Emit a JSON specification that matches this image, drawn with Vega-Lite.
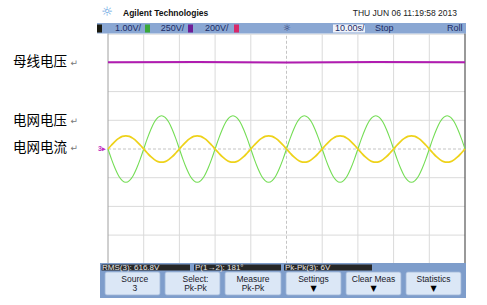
{
"$schema": "https://vega.github.io/schema/vega-lite/v6.json",
"width": 487, "height": 305, "padding": 0,
"autosize": {"type": "fit", "contains": "padding"},
"background": "white",
"config": {"view": {"stroke": null}, "text": {"font": "Liberation Sans"}},
"datasets": {
"wave": [
{"x":0.0,"i":0,"u":0},{"x":0.1,"i":0.14,"u":-0.36},{"x":0.2,"i":0.27,"u":-0.68},{"x":0.3,"i":0.37,"u":-0.94},{"x":0.4,"i":0.44,"u":-1.10},{"x":0.5,"i":0.46,"u":-1.16},{"x":0.6,"i":0.44,"u":-1.10},{"x":0.7,"i":0.37,"u":-0.94},{"x":0.8,"i":0.27,"u":-0.68},{"x":0.9,"i":0.14,"u":-0.36},
{"x":1.0,"i":0,"u":0},{"x":1.1,"i":-0.14,"u":0.36},{"x":1.2,"i":-0.27,"u":0.68},{"x":1.3,"i":-0.37,"u":0.94},{"x":1.4,"i":-0.44,"u":1.10},{"x":1.5,"i":-0.46,"u":1.16},{"x":1.6,"i":-0.44,"u":1.10},{"x":1.7,"i":-0.37,"u":0.94},{"x":1.8,"i":-0.27,"u":0.68},{"x":1.9,"i":-0.14,"u":0.36},
{"x":2.0,"i":0,"u":0},{"x":2.1,"i":0.14,"u":-0.36},{"x":2.2,"i":0.27,"u":-0.68},{"x":2.3,"i":0.37,"u":-0.94},{"x":2.4,"i":0.44,"u":-1.10},{"x":2.5,"i":0.46,"u":-1.16},{"x":2.6,"i":0.44,"u":-1.10},{"x":2.7,"i":0.37,"u":-0.94},{"x":2.8,"i":0.27,"u":-0.68},{"x":2.9,"i":0.14,"u":-0.36},
{"x":3.0,"i":0,"u":0},{"x":3.1,"i":-0.14,"u":0.36},{"x":3.2,"i":-0.27,"u":0.68},{"x":3.3,"i":-0.37,"u":0.94},{"x":3.4,"i":-0.44,"u":1.10},{"x":3.5,"i":-0.46,"u":1.16},{"x":3.6,"i":-0.44,"u":1.10},{"x":3.7,"i":-0.37,"u":0.94},{"x":3.8,"i":-0.27,"u":0.68},{"x":3.9,"i":-0.14,"u":0.36},
{"x":4.0,"i":0,"u":0},{"x":4.1,"i":0.14,"u":-0.36},{"x":4.2,"i":0.27,"u":-0.68},{"x":4.3,"i":0.37,"u":-0.94},{"x":4.4,"i":0.44,"u":-1.10},{"x":4.5,"i":0.46,"u":-1.16},{"x":4.6,"i":0.44,"u":-1.10},{"x":4.7,"i":0.37,"u":-0.94},{"x":4.8,"i":0.27,"u":-0.68},{"x":4.9,"i":0.14,"u":-0.36},
{"x":5.0,"i":0,"u":0},{"x":5.1,"i":-0.14,"u":0.36},{"x":5.2,"i":-0.27,"u":0.68},{"x":5.3,"i":-0.37,"u":0.94},{"x":5.4,"i":-0.44,"u":1.10},{"x":5.5,"i":-0.46,"u":1.16},{"x":5.6,"i":-0.44,"u":1.10},{"x":5.7,"i":-0.37,"u":0.94},{"x":5.8,"i":-0.27,"u":0.68},{"x":5.9,"i":-0.14,"u":0.36},
{"x":6.0,"i":0,"u":0},{"x":6.1,"i":0.14,"u":-0.36},{"x":6.2,"i":0.27,"u":-0.68},{"x":6.3,"i":0.37,"u":-0.94},{"x":6.4,"i":0.44,"u":-1.10},{"x":6.5,"i":0.46,"u":-1.16},{"x":6.6,"i":0.44,"u":-1.10},{"x":6.7,"i":0.37,"u":-0.94},{"x":6.8,"i":0.27,"u":-0.68},{"x":6.9,"i":0.14,"u":-0.36},
{"x":7.0,"i":0,"u":0},{"x":7.1,"i":-0.14,"u":0.36},{"x":7.2,"i":-0.27,"u":0.68},{"x":7.3,"i":-0.37,"u":0.94},{"x":7.4,"i":-0.44,"u":1.10},{"x":7.5,"i":-0.46,"u":1.16},{"x":7.6,"i":-0.44,"u":1.10},{"x":7.7,"i":-0.37,"u":0.94},{"x":7.8,"i":-0.27,"u":0.68},{"x":7.9,"i":-0.14,"u":0.36},
{"x":8.0,"i":0,"u":0},{"x":8.1,"i":0.14,"u":-0.36},{"x":8.2,"i":0.27,"u":-0.68},{"x":8.3,"i":0.37,"u":-0.94},{"x":8.4,"i":0.44,"u":-1.10},{"x":8.5,"i":0.46,"u":-1.16},{"x":8.6,"i":0.44,"u":-1.10},{"x":8.7,"i":0.37,"u":-0.94},{"x":8.8,"i":0.27,"u":-0.68},{"x":8.9,"i":0.14,"u":-0.36},
{"x":9.0,"i":0,"u":0},{"x":9.1,"i":-0.14,"u":0.36},{"x":9.2,"i":-0.27,"u":0.68},{"x":9.3,"i":-0.37,"u":0.94},{"x":9.4,"i":-0.44,"u":1.10},{"x":9.5,"i":-0.46,"u":1.16},{"x":9.6,"i":-0.44,"u":1.10},{"x":9.7,"i":-0.37,"u":0.94},{"x":9.8,"i":-0.27,"u":0.68},{"x":9.9,"i":-0.14,"u":0.36},
{"x":10.0,"i":0,"u":0}
],
"bus": [{"x":0,"y":3.02},{"x":2.5,"y":3.03},{"x":5,"y":3.01},{"x":7.5,"y":3.03},{"x":10,"y":3.02}],
"vgrid": [{"x":1,"x2":1,"y":-4,"y2":4},{"x":2,"x2":2,"y":-4,"y2":4},{"x":3,"x2":3,"y":-4,"y2":4},{"x":4,"x2":4,"y":-4,"y2":4},{"x":6,"x2":6,"y":-4,"y2":4},{"x":7,"x2":7,"y":-4,"y2":4},{"x":8,"x2":8,"y":-4,"y2":4},{"x":9,"x2":9,"y":-4,"y2":4}],
"hgrid": [{"x":0,"x2":10,"y":-3,"y2":-3},{"x":0,"x2":10,"y":-2,"y2":-2},{"x":0,"x2":10,"y":-1,"y2":-1},{"x":0,"x2":10,"y":1,"y2":1},{"x":0,"x2":10,"y":2,"y2":2},{"x":0,"x2":10,"y":3,"y2":3},{"x":0,"x2":10,"y":4,"y2":4}],
"cgrid": [{"x":5,"x2":5,"y":-4,"y2":4},{"x":0,"x2":10,"y":0,"y2":0}],
"lborder": [{"x":0,"x2":0,"y":-4,"y2":4.03}],
"rborder": [{"x":10,"x2":10,"y":-4,"y2":4.03}],
"labels": [{"x":-2.661,"y":3.021,"label":"母线电压"},{"x":-2.661,"y":0.986,"label":"电网电压"},{"x":-2.661,"y":0.045,"label":"电网电流"}],
"returns": [{"x":-1.05,"y":3.0,"label":"↵"},{"x":-1.05,"y":0.965,"label":"↵"},{"x":-1.05,"y":0.024,"label":"↵"}],
"hbar": [{"x":-0.308,"x2":10.028,"y":4.39,"y2":4.024}],
"chbox": [{"x":-0.308,"x2":-0.168,"y":4.338,"y2":4.059,"k":"1"},{"x":1.036,"x2":1.176,"y":4.338,"y2":4.059,"k":"2"},{"x":2.241,"x2":2.381,"y":4.338,"y2":4.059,"k":"3"},{"x":3.529,"x2":3.669,"y":4.338,"y2":4.059,"k":"4"}],
"tbox": [{"x":6.303,"x2":7.199,"y":4.338,"y2":4.059}],
"htext": [{"x":0.196,"y":4.199,"label":"1.00V/"},{"x":1.476,"y":4.199,"label":"250V/"},{"x":2.717,"y":4.199,"label":"200V/"},{"x":6.36,"y":4.199,"label":"10.00s/"},{"x":7.479,"y":4.199,"label":"Stop"},{"x":9.496,"y":4.199,"label":"Roll"}],
"sun": [{"x":5.006,"y":4.2,"label":"☼"}],
"logo": [{"x":-0.028,"y":4.76,"label":"☼"}],
"brand": [{"x":0.42,"y":4.739,"label":"Agilent Technologies"}],
"date": [{"x":9.776,"y":4.739,"label":"THU JUN 06 11:19:58 2013"}],
"panel": [{"x":-0.224,"x2":10.028,"y":-3.972,"y2":-5.192}],
"mbar": [{"x":-0.182,"x2":2.297,"y":-4.024,"y2":-4.233},{"x":2.409,"x2":4.846,"y":-4.024,"y2":-4.233},{"x":4.93,"x2":7.395,"y":-4.024,"y2":-4.233}],
"mtext": [{"x":-0.168,"y":-4.129,"label":"RMS(3): 616.8V"},{"x":2.437,"y":-4.129,"label":"P(1→2): 181°"},{"x":4.958,"y":-4.129,"label":"Pk-Pk(3): 6V"}],
"buttons": [{"x":-0.084,"x2":1.457,"y":-4.286,"y2":-5.087},{"x":1.597,"x2":3.137,"y":-4.286,"y2":-5.087},{"x":3.277,"x2":4.846,"y":-4.286,"y2":-5.087},{"x":4.986,"x2":6.527,"y":-4.286,"y2":-5.087},{"x":6.667,"x2":8.207,"y":-4.286,"y2":-5.087},{"x":8.347,"x2":9.888,"y":-4.286,"y2":-5.087}],
"btext": [{"x":0.75,"y":-4.53,"label":"Source"},{"x":0.75,"y":-4.843,"label":"3"},{"x":2.45,"y":-4.53,"label":"Select:"},{"x":2.45,"y":-4.843,"label":"Pk-Pk"},{"x":4.062,"y":-4.53,"label":"Measure"},{"x":4.062,"y":-4.843,"label":"Pk-Pk"},{"x":5.756,"y":-4.53,"label":"Settings"},{"x":7.437,"y":-4.53,"label":"Clear Meas"},{"x":9.118,"y":-4.53,"label":"Statistics"}],
"arrows": [{"x":5.756,"y":-4.87,"label":"▼"},{"x":7.437,"y":-4.87,"label":"▼"},{"x":9.118,"y":-4.87,"label":"▼"}],
"gnd": [{"x":-0.17,"y":0.0,"label":"3▸"}]
},
"encoding": {
"x": {"field": "x", "type": "quantitative", "scale": {"domain": [-3.0252, 10.6162], "nice": false, "zero": false}, "axis": null},
"y": {"field": "y", "type": "quantitative", "scale": {"domain": [-5.4355, 5.1916], "nice": false, "zero": false}, "axis": null}
},
"layer": [
{"data": {"name": "vgrid"}, "mark": {"type": "rule", "color": "#dadada", "strokeWidth": 1}, "encoding": {"x2": {"field": "x2"}, "y2": {"field": "y2"}}},
{"data": {"name": "hgrid"}, "mark": {"type": "rule", "color": "#dadada", "strokeWidth": 1}, "encoding": {"x2": {"field": "x2"}, "y2": {"field": "y2"}}},
{"data": {"name": "cgrid"}, "mark": {"type": "rule", "color": "#c4c4c4", "strokeWidth": 1, "strokeDash": [3, 2]}, "encoding": {"x2": {"field": "x2"}, "y2": {"field": "y2"}}},
{"data": {"name": "lborder"}, "mark": {"type": "rule", "color": "#a0a0a0", "strokeWidth": 1}, "encoding": {"x2": {"field": "x2"}, "y2": {"field": "y2"}}},
{"data": {"name": "rborder"}, "mark": {"type": "rule", "color": "#555555", "strokeWidth": 1.2}, "encoding": {"x2": {"field": "x2"}, "y2": {"field": "y2"}}},
{"data": {"name": "bus"}, "mark": {"type": "line", "color": "#b01cb0", "strokeWidth": 2}},
{"data": {"name": "wave"}, "mark": {"type": "line", "color": "#74dd55", "strokeWidth": 1.1, "interpolate": "monotone"}, "encoding": {"y": {"field": "u", "type": "quantitative", "scale": {"domain": [-5.4355, 5.1916], "nice": false, "zero": false}, "axis": null}}},
{"data": {"name": "wave"}, "mark": {"type": "line", "color": "#eed21a", "strokeWidth": 1.7, "interpolate": "monotone"}, "encoding": {"y": {"field": "i", "type": "quantitative", "scale": {"domain": [-5.4355, 5.1916], "nice": false, "zero": false}, "axis": null}}},
{"data": {"name": "gnd"}, "mark": {"type": "text", "color": "#c030c0", "fontSize": 7, "fontWeight": "bold", "align": "center", "baseline": "middle"}, "encoding": {"text": {"field": "label"}}},
{"data": {"name": "labels"}, "mark": {"type": "text", "font": "Noto Sans CJK SC", "fontSize": 13.5, "color": "#000000", "align": "left", "baseline": "middle"}, "encoding": {"text": {"field": "label"}}},
{"data": {"name": "returns"}, "mark": {"type": "text", "font": "DejaVu Sans", "fontSize": 9, "color": "#777777", "align": "left", "baseline": "middle"}, "encoding": {"text": {"field": "label"}}},
{"data": {"name": "hbar"}, "mark": {"type": "rect", "color": "#8aa7d3"}, "encoding": {"x2": {"field": "x2"}, "y2": {"field": "y2"}}},
{"data": {"name": "chbox"}, "mark": {"type": "rect"}, "encoding": {"x2": {"field": "x2"}, "y2": {"field": "y2"}, "color": {"field": "k", "type": "nominal", "scale": {"domain": ["1", "2", "3", "4"], "range": ["#1a1a10", "#3aa83a", "#6e1e96", "#d82a6a"]}, "legend": null}}},
{"data": {"name": "tbox"}, "mark": {"type": "rect", "color": "#eef2fa"}, "encoding": {"x2": {"field": "x2"}, "y2": {"field": "y2"}}},
{"data": {"name": "htext"}, "mark": {"type": "text", "fontSize": 9, "color": "#1c2c66", "align": "left", "baseline": "middle"}, "encoding": {"text": {"field": "label"}}},
{"data": {"name": "sun"}, "mark": {"type": "text", "font": "DejaVu Sans", "fontSize": 9, "color": "#1c2c66", "align": "center", "baseline": "middle"}, "encoding": {"text": {"field": "label"}}},
{"data": {"name": "logo"}, "mark": {"type": "text", "font": "DejaVu Sans", "fontSize": 13, "color": "#5a9ee0", "align": "center", "baseline": "middle"}, "encoding": {"text": {"field": "label"}}},
{"data": {"name": "brand"}, "mark": {"type": "text", "fontSize": 8.5, "fontWeight": "bold", "color": "#111111", "align": "left", "baseline": "middle"}, "encoding": {"text": {"field": "label"}}},
{"data": {"name": "date"}, "mark": {"type": "text", "fontSize": 8.5, "color": "#222222", "align": "right", "baseline": "middle"}, "encoding": {"text": {"field": "label"}}},
{"data": {"name": "panel"}, "mark": {"type": "rect", "color": "#7e9dcb"}, "encoding": {"x2": {"field": "x2"}, "y2": {"field": "y2"}}},
{"data": {"name": "mbar"}, "mark": {"type": "rect", "color": "#272727"}, "encoding": {"x2": {"field": "x2"}, "y2": {"field": "y2"}}},
{"data": {"name": "mtext"}, "mark": {"type": "text", "fontSize": 8, "color": "#e8e8e8", "align": "left", "baseline": "middle"}, "encoding": {"text": {"field": "label"}}},
{"data": {"name": "buttons"}, "mark": {"type": "rect", "color": "#dbe7f6", "stroke": "#9fb6d8", "strokeWidth": 0.8, "cornerRadius": 2}, "encoding": {"x2": {"field": "x2"}, "y2": {"field": "y2"}}},
{"data": {"name": "btext"}, "mark": {"type": "text", "fontSize": 8.5, "color": "#1a1a2a", "align": "center", "baseline": "middle"}, "encoding": {"text": {"field": "label"}}},
{"data": {"name": "arrows"}, "mark": {"type": "text", "font": "DejaVu Sans", "fontSize": 8, "color": "#000000", "align": "center", "baseline": "middle"}, "encoding": {"text": {"field": "label"}}}
]
}
